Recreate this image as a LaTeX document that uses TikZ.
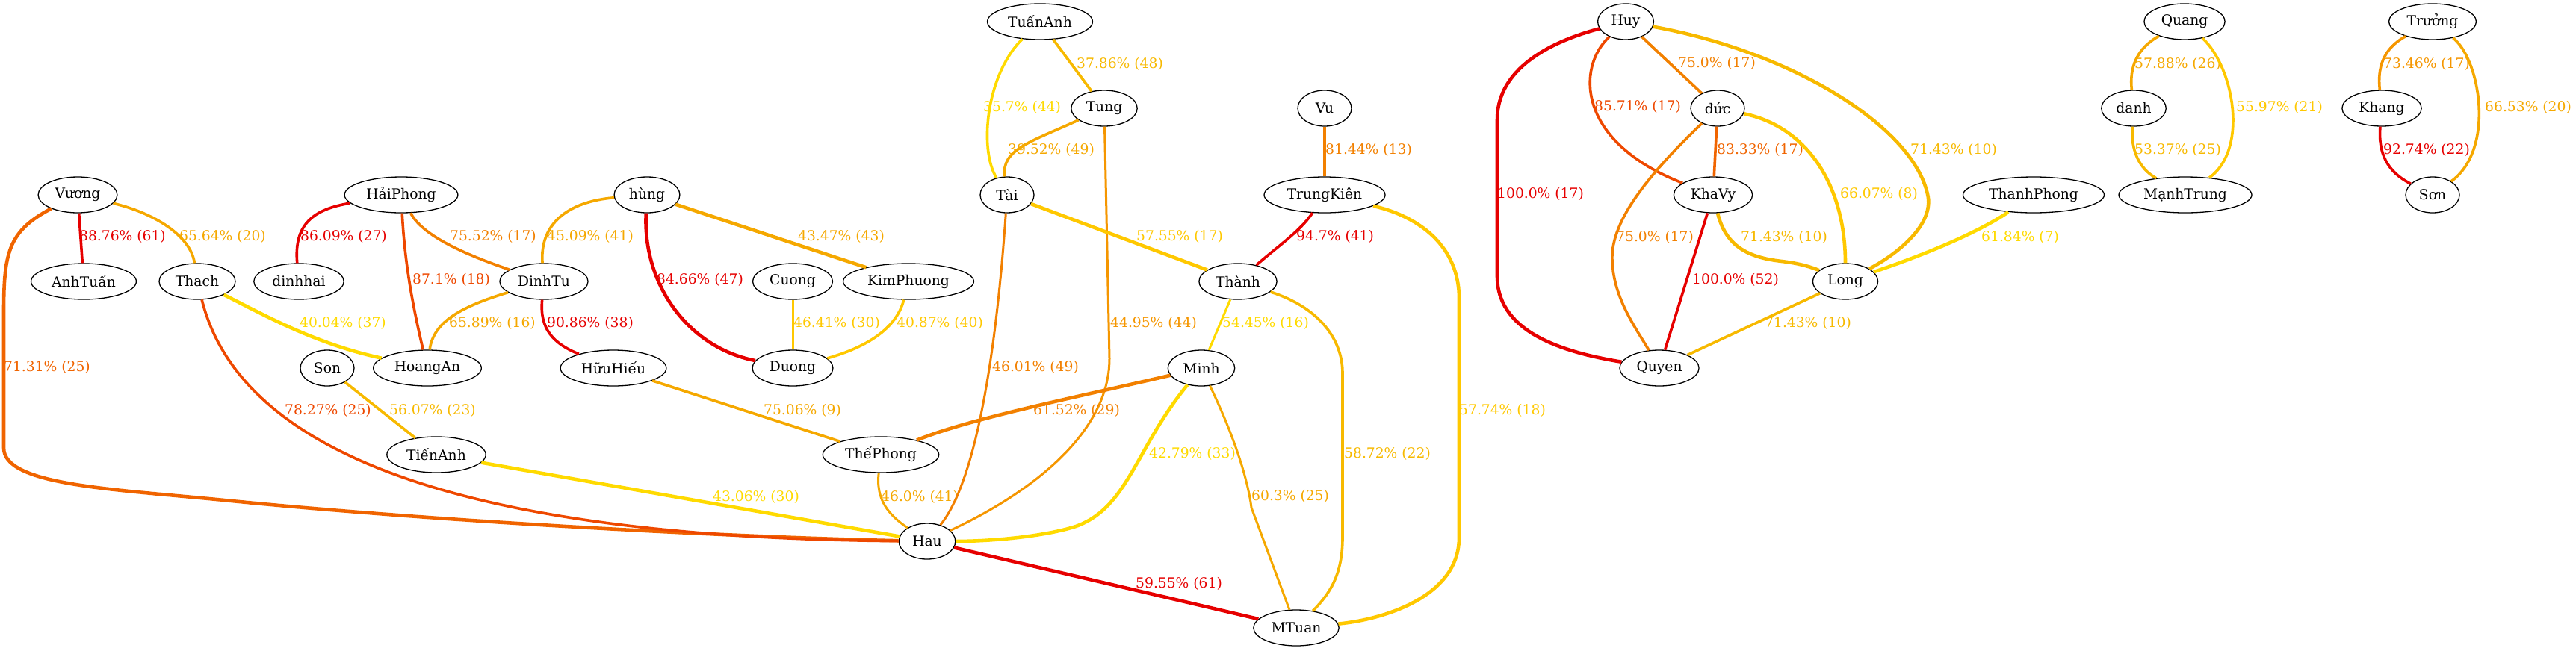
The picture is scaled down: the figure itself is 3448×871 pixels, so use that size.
\documentclass[tikz,border=0pt]{standalone}
\usepackage{fontspec}
\setmainfont{DejaVu Serif}
\usepackage{tikz}
\usetikzlibrary{shapes.geometric}

\definecolor{cred}{RGB}{230,0,0}
\definecolor{cvermil}{RGB}{238,72,0}
\definecolor{crust}{RGB}{240,100,0}
\definecolor{corange}{RGB}{242,128,0}
\definecolor{camber}{RGB}{245,150,0}
\definecolor{cgold}{RGB}{245,168,0}
\definecolor{csaffron}{RGB}{247,185,0}
\definecolor{cyellow}{RGB}{255,200,0}
\definecolor{clemon}{RGB}{255,218,0}

\newcommand{\gvfont}{\fontsize{18.7}{22}\selectfont}

\begin{document}
\begin{tikzpicture}[x=1pt, y=-1pt, line join=round]
 \tikzstyle{person} = [ellipse, draw, line width=1.3pt, font=\gvfont, inner xsep=7pt, inner ysep=4pt, minimum height=48pt, minimum width=72pt]
 \tikzstyle{pct} = [anchor=west, inner sep=0pt, font=\gvfont]
 \tikzstyle{tie} = [line width=3.6pt]
 \tikzstyle{heavy} = [line width=4.6pt]
 \tikzstyle{light} = [line width=3pt]
 \useasboundingbox (0,0) rectangle (3448,871);

 % people, row by row
 \node[person] (TuanAnh) at (1392,29) {TuấnAnh};
 \node[person] (Huy) at (2176,29) {Huy};
 \node[person] (Quang) at (2924,29) {Quang};
 \node[person] (Truong) at (3256,29) {Trưởng};
 \node[person] (Tung) at (1478,145) {Tung};
 \node[person] (Vu) at (1773,145) {Vu};
 \node[person] (Duc) at (2299,145) {đức};
 \node[person] (Danh) at (2856,145) {danh};
 \node[person] (Khang) at (3188,145) {Khang};
 \node[person] (Vuong) at (104,261) {Vương};
 \node[person] (HaiPhong) at (537,261) {HảiPhong};
 \node[person] (Hung) at (866,261) {hùng};
 \node[person] (Tai) at (1348,261) {Tài};
 \node[person] (TrungKien) at (1773,261) {TrungKiên};
 \node[person] (KhaVy) at (2293,261) {KhaVy};
 \node[person] (ThanhPhong) at (2722,261) {ThanhPhong};
 \node[person] (ManhTrung) at (2925,261) {MạnhTrung};
 \node[person] (SonB) at (3256,261) {Sơn};
 \node[person] (AnhTuan) at (112,377) {AnhTuấn};
 \node[person] (Thach) at (264,377) {Thach};
 \node[person] (DinhHai) at (400,377) {dinhhai};
 \node[person] (DinhTu) at (728,377) {DinhTu};
 \node[person] (Cuong) at (1061,377) {Cuong};
 \node[person] (KimPhuong) at (1216,377) {KimPhuong};
 \node[person] (Thanh) at (1657,377) {Thành};
 \node[person] (Long) at (2470,377) {Long};
 \node[person] (Son) at (438,493) {Son};
 \node[person] (HoangAn) at (572,493) {HoangAn};
 \node[person] (HuuHieu) at (821,493) {HữuHiếu};
 \node[person] (Duong) at (1061,493) {Duong};
 \node[person] (Minh) at (1608,493) {Minh};
 \node[person] (Quyen) at (2221,493) {Quyen};
 \node[person] (TienAnh) at (584,609) {TiếnAnh};
 \node[person] (ThePhong) at (1179,609) {ThếPhong};
 \node[person] (Hau) at (1241,725) {Hau};
 \node[person] (MTuan) at (1735,841) {MTuan};

 % left cluster
 \draw[tie, cred] (Vuong) -- (AnhTuan);
 \node[pct, text=cred] (p1) at (106,317) {88.76\% (61)};
 \draw[tie, cgold] (Vuong) .. controls (205,285) and (255,315) .. (Thach);
 \node[pct, text=cgold] (p2) at (240,317) {65.64\% (20)};
 \draw[heavy, crust] (Vuong) .. controls (10,310) and (5,340) .. (5,420) -- (5,600)
   .. controls (5,650) and (150,655) .. (300,670) .. controls (600,700) and (1000,720) .. (Hau);
 \node[pct, text=crust] (p3) at (5,492) {71.31\% (25)};
 \draw[tie, cred] (HaiPhong) .. controls (420,280) and (393,300) .. (DinhHai);
 \node[pct, text=cred] (p4) at (402,317) {86.09\% (27)};
 \draw[tie, cvermil] (HaiPhong) .. controls (542,360) and (555,420) .. (HoangAn);
 \node[pct, text=cvermil] (p5) at (552,375) {87.1\% (18)};
 \draw[tie, corange] (HaiPhong) .. controls (565,315) and (620,340) .. (DinhTu);
 \node[pct, text=corange] (p6) at (602,317) {75.52\% (17)};
 \draw[heavy, clemon] (Thach) .. controls (350,420) and (420,460) .. (HoangAn);
 \node[pct, text=clemon] (p7) at (401,433) {40.04\% (37)};
 \draw[tie, cgold] (DinhTu) .. controls (620,410) and (580,430) .. (HoangAn);
 \node[pct, text=cgold] (p8) at (601,433) {65.89\% (16)};
 \draw[tie, cvermil] (Thach) .. controls (320,600) and (600,720) .. (Hau);
 \node[pct, text=cvermil] (p9) at (381,550) {78.27\% (25)};
 \draw[tie, csaffron] (Son) -- (TienAnh);
 \node[pct, text=csaffron] (p10) at (521,550) {56.07\% (23)};
 \draw[heavy, clemon] (TienAnh) -- (Hau);
 \node[pct, text=clemon] (p11) at (954,666) {43.06\% (30)};
 \draw[tie, cgold] (Hung) .. controls (760,270) and (722,300) .. (DinhTu);
 \node[pct, text=cgold] (p12) at (732,317) {45.09\% (41)};
 \draw[heavy, cred] (Hung) .. controls (860,380) and (920,465) .. (Duong);
 \node[pct, text=cred] (p13) at (879,375) {84.66\% (47)};
 \draw[heavy, cgold] (Hung) -- (KimPhuong);
 \node[pct, text=cgold] (p14) at (1068,317) {43.47\% (43)};
 \draw[tie, cred] (DinhTu) .. controls (722,440) and (740,460) .. (HuuHieu);
 \node[pct, text=cred] (p15) at (732,433) {90.86\% (38)};
 \draw[light, cyellow] (Cuong) -- (Duong);
 \node[pct, text=cyellow] (p16) at (1062,433) {46.41\% (30)};
 \draw[tie, cyellow] (KimPhuong) .. controls (1200,440) and (1160,465) .. (Duong);
 \node[pct, text=cyellow] (p17) at (1200,433) {40.87\% (40)};
 \draw[tie, cgold] (HuuHieu) -- (ThePhong);
 \node[pct, text=cgold] (p18) at (1022,550) {75.06\% (9)};
 \draw[light, cgold] (ThePhong) .. controls (1172,670) and (1190,690) .. (Hau);
 \node[pct, text=cgold] (p19) at (1179,666) {46.0\% (41)};

 % middle cluster
 \draw[tie, csaffron] (TuanAnh) -- (Tung);
 \node[pct, text=csaffron] (p20) at (1441,86) {37.86\% (48)};
 \draw[tie, clemon] (TuanAnh) .. controls (1320,100) and (1310,200) .. (Tai);
 \node[pct, text=clemon] (p21) at (1316,144) {35.7\% (44)};
 \draw[tie, cgold] (Tung) .. controls (1380,190) and (1340,200) .. (Tai);
 \node[pct, text=cgold] (p22) at (1349,201) {39.52\% (49)};
 \draw[light, camber] (Tung) -- (1485,480) .. controls (1485,580) and (1380,660) .. (Hau);
 \node[pct, text=camber] (p23) at (1486,433) {44.95\% (44)};
 \draw[light, corange] (Tai) .. controls (1335,450) and (1310,640) .. (Hau);
 \node[pct, text=corange] (p24) at (1328,492) {46.01\% (49)};
 \draw[heavy, cyellow] (Tai) -- (Thanh);
 \node[pct, text=cyellow] (p25) at (1521,317) {57.55\% (17)};
 \draw[tie, corange] (Vu) -- (TrungKien);
 \node[pct, text=corange] (p26) at (1774,201) {81.44\% (13)};
 \draw[tie, cred] (TrungKien) .. controls (1740,310) and (1710,330) .. (Thanh);
 \node[pct, text=cred] (p27) at (1735,317) {94.7\% (41)};
 \draw[heavy, cyellow] (TrungKien) .. controls (1900,290) and (1953,330) .. (1953,400) -- (1953,720)
   .. controls (1953,800) and (1850,830) .. (MTuan);
 \node[pct, text=cyellow] (p28) at (1953,550) {57.74\% (18)};
 \draw[light, clemon] (Thanh) -- (Minh);
 \node[pct, text=clemon] (p29) at (1636,433) {54.45\% (16)};
 \draw[tie, csaffron] (Thanh) .. controls (1760,410) and (1797,450) .. (1797,500) -- (1797,720)
   .. controls (1797,770) and (1780,795) .. (MTuan);
 \node[pct, text=csaffron] (p30) at (1799,608) {58.72\% (22)};
 \draw[heavy, corange] (Minh) .. controls (1450,530) and (1300,560) .. (ThePhong);
 \node[pct, text=corange] (p31) at (1383,550) {61.52\% (29)};
 \draw[heavy, clemon] (Minh) .. controls (1520,600) and (1510,680) .. (1440,705)
   .. controls (1400,718) and (1330,725) .. (Hau);
 \node[pct, text=clemon] (p32) at (1538,608) {42.79\% (33)};
 \draw[light, cgold] (Minh) .. controls (1650,580) and (1670,640) .. (1675,680) -- (MTuan);
 \node[pct, text=cgold] (p33) at (1675,665) {60.3\% (25)};
 \draw[heavy, cred] (Hau) -- (MTuan);
 \node[pct, text=cred] (p34) at (1520,782) {59.55\% (61)};

 % right cluster
 \draw[heavy, cred] (Huy) .. controls (2060,60) and (2004,100) .. (2004,160) -- (2004,370)
   .. controls (2004,440) and (2080,470) .. (Quyen);
 \node[pct, text=cred] (p35) at (2004,260) {100.0\% (17)};
 \draw[tie, cvermil] (Huy) .. controls (2110,90) and (2110,190) .. (KhaVy);
 \node[pct, text=cvermil] (p36) at (2134,143) {85.71\% (17)};
 \draw[tie, corange] (Huy) -- (Duc);
 \node[pct, text=corange] (p37) at (2246,85) {75.0\% (17)};
 \draw[heavy, csaffron] (Huy) .. controls (2400,70) and (2560,170) .. (2580,260)
   .. controls (2590,300) and (2540,340) .. (Long);
 \node[pct, text=csaffron] (p38) at (2557,201) {71.43\% (10)};
 \draw[tie, crust] (Duc) -- (KhaVy);
 \node[pct, text=crust] (p39) at (2298,201) {83.33\% (17)};
 \draw[heavy, cyellow] (Duc) .. controls (2420,170) and (2470,250) .. (Long);
 \node[pct, text=cyellow] (p40) at (2463,260) {66.07\% (8)};
 \draw[tie, corange] (Duc) .. controls (2200,240) and (2155,300) .. (2158,350)
   .. controls (2160,400) and (2190,440) .. (Quyen);
 \node[pct, text=corange] (p41) at (2163,318) {75.0\% (17)};
 \draw[tie, cred] (KhaVy) -- (Quyen);
 \node[pct, text=cred] (p42) at (2265,375) {100.0\% (52)};
 \draw[heavy, csaffron] (KhaVy) .. controls (2310,330) and (2340,345) .. (2385,350)
   .. controls (2410,353) and (2425,358) .. (Long);
 \node[pct, text=csaffron] (p43) at (2330,318) {71.43\% (10)};
 \draw[tie, csaffron] (Long) -- (Quyen);
 \node[pct, text=csaffron] (p44) at (2362,433) {71.43\% (10)};
 \draw[heavy, clemon] (ThanhPhong) .. controls (2650,310) and (2580,340) .. (Long);
 \node[pct, text=clemon] (p45) at (2652,318) {61.84\% (7)};

 % far right pairs
 \draw[tie, cgold] (Quang) .. controls (2860,65) and (2850,90) .. (Danh);
 \node[pct, text=cgold] (p46) at (2857,86) {57.88\% (26)};
 \draw[tie, cyellow] (Quang) .. controls (2990,90) and (3010,200) .. (ManhTrung);
 \node[pct, text=cyellow] (p47) at (2993,144) {55.97\% (21)};
 \draw[tie, csaffron] (Danh) .. controls (2852,200) and (2862,225) .. (ManhTrung);
 \node[pct, text=csaffron] (p48) at (2857,201) {53.37\% (25)};
 \draw[tie, camber] (Truong) .. controls (3190,65) and (3182,90) .. (Khang);
 \node[pct, text=camber] (p49) at (3190,86) {73.46\% (17)};
 \draw[tie, cgold] (Truong) .. controls (3320,80) and (3340,200) .. (SonB);
 \node[pct, text=cgold] (p50) at (3326,144) {66.53\% (20)};
 \draw[tie, cred] (Khang) .. controls (3183,205) and (3195,230) .. (SonB);
 \node[pct, text=cred] (p51) at (3190,201) {92.74\% (22)};
\end{tikzpicture}
\end{document}
